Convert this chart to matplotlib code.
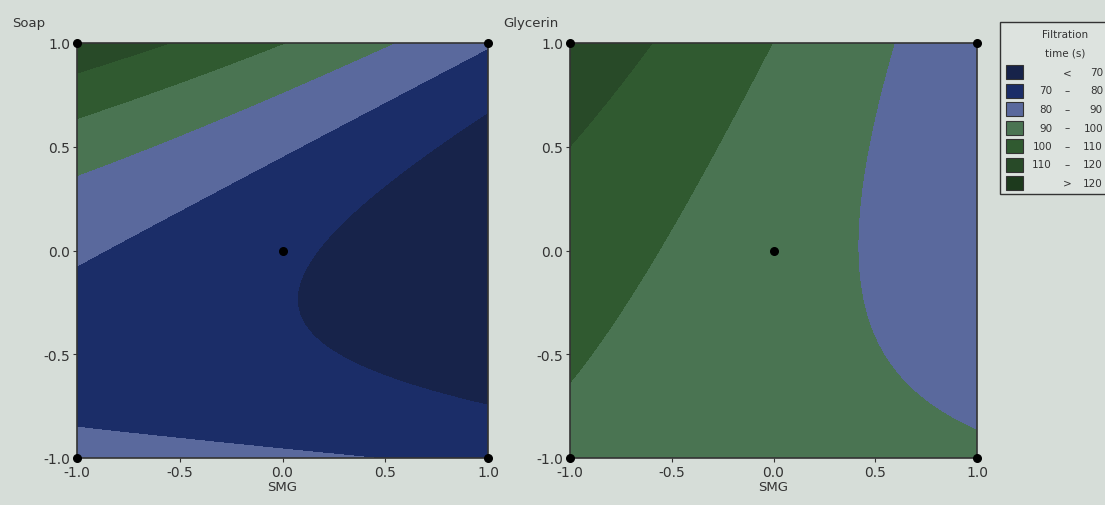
import numpy as np
import matplotlib.pyplot as plt
from matplotlib.patches import Rectangle

# fitted response surface for filtration time (s), coded factor levels
# terms: const, SMG, other, SMG^2, other^2, SMG*other
terms = ['const', 'SMG', 'B', 'SMG^2', 'B^2', 'SMG*B']
coef_soap = [71.8, -10.3, 9.5, -0.9, 18.9, -8.0]
coef_glycerin = [94.2, -10.2, 2.6, 0.2, 3.1, -6.6]

# design points (corners + centre)
design_x = [-1, 1, -1, 1, 0]
design_y = [-1, -1, 1, 1, 0]

levels = [-1000, 70, 80, 90, 100, 110, 120, 1000]
colors = ['#17234a', '#1b2d68', '#5a699d', '#4a7452', '#305a30', '#284a28', '#1d3a1d']
leg_lo = ['', '70', '80', '90', '100', '110', '']
leg_sym = ['<', '–', '–', '–', '–', '–', '>']
leg_hi = ['70', '80', '90', '100', '110', '120', '120']

ticks = [-1.0, -0.5, 0.0, 0.5, 1.0]
tick_labels = ['-1.0', '-0.5', '0.0', '0.5', '1.0']


def surface(c, X, Y):
    return c[0] + c[1] * X + c[2] * Y + c[3] * X**2 + c[4] * Y**2 + c[5] * X * Y


W, H = 1105, 506
ink = '#333333'
fig = plt.figure(figsize=(W / 100, H / 100), dpi=100, facecolor='#d6ddd8')


def px(x0, y0, x1, y1):
    # pixel box -> figure fraction rect
    return [x0 / W, 1 - y1 / H, (x1 - x0) / W, (y1 - y0) / H]


g = np.linspace(-1, 1, 301)
X, Y = np.meshgrid(g, g)

for box, coef, ylab, lx in [(px(77, 44, 488, 459), coef_soap, 'Soap', 12),
                            (px(570, 44, 977, 459), coef_glycerin, 'Glycerin', 503)]:
    ax = fig.add_axes(box)
    ax.contourf(X, Y, surface(coef, X, Y), levels=levels, colors=colors)
    ax.scatter(design_x, design_y, s=30, color='black', zorder=5, clip_on=False)
    ax.set_xlim(-1, 1)
    ax.set_ylim(-1, 1)
    ax.set_xticks(ticks)
    ax.set_yticks(ticks)
    ax.set_xticklabels(tick_labels)
    ax.set_yticklabels(tick_labels)
    ax.tick_params(length=3, color=ink, labelcolor=ink, labelsize=10, pad=2)
    for s in ax.spines.values():
        s.set_color(ink)
        s.set_linewidth(1.2)
    ax.set_xlabel('SMG', fontsize=9.5, color=ink, labelpad=1)
    fig.text(lx / W, 1 - 23 / H, ylab, fontsize=9.5, color=ink, va='center')

# legend box, runs off the right edge
fig.add_artist(Rectangle((1000 / W, 1 - 195 / H), 130 / W, 172 / H, transform=fig.transFigure,
                         facecolor='#dde3df', edgecolor=ink, lw=1))
fig.text(1065 / W, 1 - 35 / H, 'Filtration', fontsize=7.5, ha='center', va='center', color=ink)
fig.text(1065 / W, 1 - 53 / H, 'time (s)', fontsize=7.5, ha='center', va='center', color=ink)
for i in range(len(leg_hi)):
    yc = 73 + 18.5 * i
    fig.add_artist(Rectangle((1006 / W, 1 - (yc + 7) / H), 17 / W, 14 / H, transform=fig.transFigure,
                             facecolor=colors[i], edgecolor=ink, lw=0.8))
    kw = dict(fontsize=7.5, va='center', color=ink)
    fig.text(1052 / W, 1 - yc / H, leg_lo[i], ha='right', **kw)
    fig.text(1067 / W, 1 - yc / H, leg_sym[i], ha='center', **kw)
    fig.text(1103 / W, 1 - yc / H, leg_hi[i], ha='right', **kw)

fig.savefig('out.png', dpi=100, facecolor=fig.get_facecolor())
